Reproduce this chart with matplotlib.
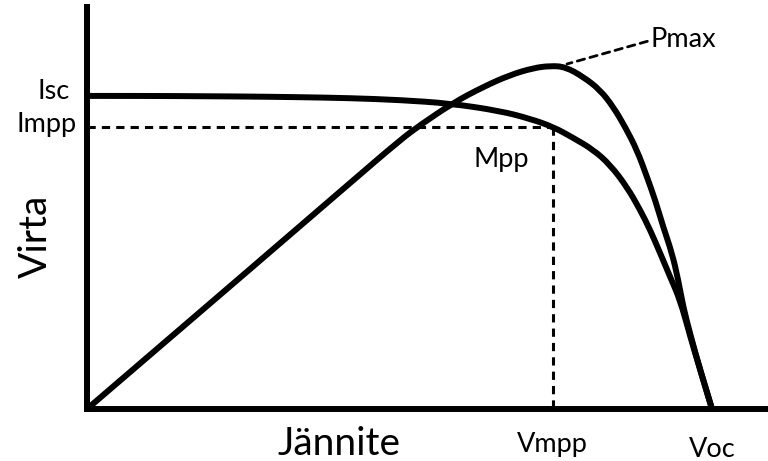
import numpy as np
import matplotlib.pyplot as plt
from matplotlib.path import Path
from matplotlib.patches import PathPatch

# values (arbitrary units, Voc = 100, Isc = 100)
iv_v = [0, 10.1, 18.1, 26.1, 34.1, 42.1, 50.1, 58.1, 66.1, 70.9, 74.6, 77.8, 81.0,
        83.7, 86.4, 88.5, 90.1, 91.7, 93.3, 94.9, 96.5, 98.1, 100]
iv_i = [100, 100, 99.9, 99.8, 99.6, 99.3, 98.7, 97.6, 95.2, 92.7, 90.1, 86.6, 82.8,
        78.0, 70.9, 63.6, 57.2, 49.8, 42.2, 34.8, 23.3, 12.5, 0]

p_v = [0, 10.1, 26.1, 42.1, 50.1, 53.3, 58.6, 63.4, 67.7, 71.4, 74.1, 76.5, 79.4,
       82.1, 84.2, 86.1, 88.0, 89.6, 90.9, 92.2, 93.6, 94.6, 95.4, 96.5, 98.1, 100]
p_w = [0, 17.3, 44.7, 72.2, 85.9, 90.7, 97.8, 102.9, 106.7, 108.9, 109.6, 109.3, 106.1,
       101.9, 96.5, 90.1, 82.7, 74.1, 66.8, 58.1, 49.8, 41.2, 32.6, 24.0, 12.5, 0]

vmpp, impp = 74.5, 90.1
v_oc, i_sc = 100, 100
p_max = (76.8, 110.2)

font = 'Lato'
small = 19.5
big = 28


def smooth_path(xs, ys):
    # quadratic bezier through the midpoints, so the read points give a smooth stroke
    pts = np.column_stack([xs, ys])
    verts = [pts[0]]
    codes = [Path.MOVETO]
    for k in range(1, len(pts) - 1):
        mid = (pts[k] + pts[k + 1]) / 2 if k < len(pts) - 2 else pts[k + 1]
        verts += [pts[k], mid]
        codes += [Path.CURVE3, Path.CURVE3]
    return Path(verts, codes)


fig = plt.figure(figsize=(7.68, 4.61), dpi=100)
ax = fig.add_axes([87 / 768, 52 / 461, 681 / 768, 402 / 461])
ax.set_xlim(0, 108.96)
ax.set_ylim(0, 128.4)
for s in ['top', 'right']:
    ax.spines[s].set_visible(False)
for s in ['left', 'bottom']:
    ax.spines[s].set_linewidth(4.3)
ax.set_xticks([])
ax.set_yticks([])

# curves
for xs, ys in [(iv_v, iv_i), (p_v, p_w)]:
    ax.add_patch(PathPatch(smooth_path(xs, ys), facecolor='none', edgecolor='black',
                           lw=4.3, capstyle='round', joinstyle='round', clip_on=False))

# maximum power point guides
dash = (0, (2.7, 2))
ax.plot([0, vmpp], [impp, impp], color='black', lw=2.2, linestyle=dash)
ax.plot([vmpp, vmpp], [impp, 0], color='black', lw=2.2, linestyle=dash)

# labels
ax.text(-2.7, 99.0, 'Isc', ha='right', va='baseline', fontsize=small, family=font, clip_on=False)
ax.text(-1.6, 88.5, 'Impp', ha='right', va='baseline', fontsize=small, family=font, clip_on=False)
ax.text(61.8, 77.3, 'Mpp', ha='left', va='baseline', fontsize=small, family=font)
ax.annotate('Pmax', xy=p_max, xytext=(90.1, 115.7), ha='left', va='baseline',
            fontsize=small, family=font,
            arrowprops=dict(arrowstyle='-', color='black', lw=2.0,
                            linestyle=(0, (2.7, 2)), shrinkA=0, shrinkB=0,
                            relpos=(0, 0.45)))
ax.text(vmpp, -13.7, 'Vmpp', ha='center', va='baseline', fontsize=small, family=font, clip_on=False)
ax.text(v_oc, -15.3, 'Voc', ha='center', va='baseline', fontsize=small, family=font, clip_on=False)
ax.text(40.3, -14.7, 'Jännite', ha='center', va='baseline', fontsize=big, family=font, clip_on=False)
ax.text(-6.4, 55, 'Virta', ha='center', va='baseline', rotation=90, rotation_mode='anchor',
        fontsize=big, family=font, clip_on=False)

fig.savefig('out.png', dpi=100)
